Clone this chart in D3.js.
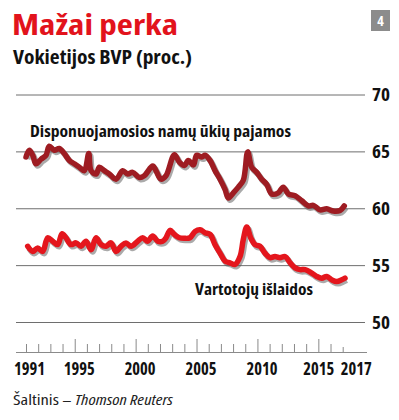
<!DOCTYPE html>
<html>
<head>
<meta charset="utf-8">
<script src="https://cdn.jsdelivr.net/npm/d3@7"></script>
<style>
  body { margin: 0; background: #fff; }
  svg text { font-family: "Open Sans", "Noto Sans", "DejaVu Sans Condensed", sans-serif; font-stretch: condensed; }
</style>
</head>
<body>
<div id="chart"></div>
<script>
// disposable household income, % of GDP
var incomeYears = [1991.00,1991.27,1991.55,1991.82,1992.23,1992.64,1992.91,1993.32,1993.73,1994.14,1994.56,1994.97,1995.38,1995.79,1996.15,1996.34,1996.75,1997.02,1997.43,1997.84,1998.39,1998.94,1999.35,1999.76,2000.30,2000.71,2001.40,2001.67,2002.08,2002.49,2003.18,2003.59,2004.00,2004.33,2004.74,2005.01,2005.43,2005.70,2006.11,2006.52,2006.93,2007.34,2007.61,2008.02,2008.43,2008.84,2009.20,2009.53,2009.94,2010.35,2010.76,2011.17,2011.71,2012.12,2012.54,2013.09,2013.64,2014.18,2014.59,2015.14,2015.69,2016.23,2016.78,2017.13];
var incomeValues = [64.55,65.15,64.7,63.95,64.35,64.7,65.5,65.15,65.3,64.85,64.25,63.95,63.65,63.35,64.85,63.35,63.05,63.65,63.35,63.05,62.6,63.35,63.05,63.2,62.75,62.9,63.75,63.35,62.6,62.9,64.75,64.1,63.8,64.25,63.85,64.7,64.55,64.7,64.25,63.35,62.6,61.7,60.95,61.4,61.9,62.5,65.0,63.65,63.2,62.6,62.15,61.3,61.4,61.9,61.3,61.15,60.7,60.25,60.3,59.9,60.0,59.8,59.85,60.25];

// consumer spending, % of GDP
var spendYears = [1991.14,1991.55,1991.96,1992.37,1992.78,1993.19,1993.60,1993.96,1994.28,1994.69,1995.11,1995.52,1995.93,1996.34,1996.75,1997.16,1997.57,1997.98,1998.39,1998.80,1999.21,1999.62,2000.17,2000.58,2000.99,2001.40,2001.81,2002.22,2002.49,2002.82,2003.18,2003.59,2004.00,2004.46,2004.88,2005.29,2005.70,2006.11,2006.52,2006.93,2007.34,2007.75,2008.16,2008.57,2008.84,2009.12,2009.45,2009.80,2010.21,2010.62,2011.03,2011.44,2011.85,2012.27,2012.68,2013.09,2013.50,2013.92,2014.46,2014.87,2015.28,2015.69,2016.10,2016.51,2016.92,2017.19];
var spendValues = [56.7,56.25,56.55,56.25,57.45,57.15,56.85,57.8,57.45,56.85,57.0,56.7,57.15,56.4,57.45,56.85,56.7,57.0,56.25,56.7,57.0,56.7,57.15,57.45,57.15,57.6,57.15,57.15,57.45,58.1,57.75,57.45,57.4,57.45,58.0,58.15,57.9,57.75,56.85,56.1,55.4,55.25,55.1,55.8,57.3,58.4,57.45,56.85,56.7,56.1,55.7,55.8,55.7,55.8,55.25,54.8,54.65,54.65,54.35,54.05,53.9,54.05,53.75,53.6,53.75,53.9];

var yTicks = [50, 55, 60, 65, 70];
var tickYears = d3.range(1991, 2018);
var labelYears = [1991, 1995, 2000, 2005, 2010, 2015, 2017];

var width = 399, height = 420;

var svg = d3.select('#chart')
.append('svg')
.attr('width', width)
.attr('height', height);

var x = d3.scaleLinear()
.domain([1991, 2017])
.range([26, 342.7]);

var y = d3.scaleLinear()
.domain([50, 70])
.range([322.5, 95]);

// squeeze text to the measured width of the original
function fit(sel, w) {
  sel.attr('textLength', w).attr('lengthAdjust', 'spacingAndGlyphs');
}

// title block
svg.append('text')
.attr('x', 12).attr('y', 35)
.style('font-size', '28.5px').style('font-weight', 'bold')
.style('fill', '#e2131c')
.text('Mažai perka')
.call(fit, 166);

svg.append('text')
.attr('x', 13).attr('y', 63.8)
.style('font-size', '19px').style('font-weight', 'bold')
.style('fill', '#111')
.text('Vokietijos BVP (proc.)')
.call(fit, 179);

svg.append('rect')
.attr('x', 371).attr('y', 10).attr('width', 19).attr('height', 21)
.style('fill', '#8c8c8c');
svg.append('text')
.attr('x', 380.5).attr('y', 26)
.attr('text-anchor', 'middle')
.style('font-size', '14px').style('font-weight', 'bold')
.style('fill', '#fff')
.text('4');

// gridlines + right labels
var grid = svg.append('g');
grid.selectAll('line')
.data(yTicks)
.enter()
.append('line')
.attr('x1', 16).attr('x2', 365)
.attr('y1', function(d) { return y(d); })
.attr('y2', function(d) { return y(d); })
.style('stroke', '#6e6e6e')
.style('stroke-width', 1);

grid.selectAll('text')
.data(yTicks)
.enter()
.append('text')
.attr('x', 372)
.attr('y', function(d) { return y(d) + 6; })
.style('font-size', '18px').style('font-weight', 'bold')
.style('fill', '#111')
.text(function(d) { return d; })
.call(fit, 18);

// bottom axis, ticks pointing up
var xAxis = svg.append('g')
.attr('transform', 'translate(0,352)')
.call(d3.axisTop(x).tickValues(tickYears).tickSize(8).tickFormat(''));
xAxis.select('.domain').remove();
xAxis.selectAll('.tick line')
.style('stroke', '#8a8a8a')
.attr('y2', function(d) { return d % 5 === 0 ? -13 : (d === 2017 ? -5 : -8); });
svg.append('line')
.attr('x1', 16).attr('x2', 367)
.attr('y1', 352.5).attr('y2', 352.5)
.style('stroke', '#8a8a8a');

svg.selectAll('.yearlabel')
.data(labelYears)
.enter()
.append('text')
.attr('class', 'yearlabel')
.attr('x', function(d) {
  if (d === 2017) return x(d) - 2;
  if (d === 2015) return x(d) - 15;
  if (d === 1991) return x(d) - 12;
  return x(d) - 11;
})
.attr('y', 375)
.style('font-size', '17px').style('font-weight', 'bold')
.style('fill', '#111')
.text(function(d) { return d; })
.call(fit, 31);

// lines
var line = d3.line()
.x(function(d) { return x(d[0]); })
.y(function(d) { return y(d[1]); })
.curve(d3.curveCatmullRom.alpha(0.5));

var income = d3.zip(incomeYears, incomeValues);
var spend = d3.zip(spendYears, spendValues);

[[income, '#9e1c22'], [spend, '#e4161d']].forEach(function(s) {
  svg.append('path')
  .datum(s[0])
  .attr('d', line)
  .attr('transform', 'translate(1.5,2)')
  .style('fill', 'none')
  .style('stroke', '#555')
  .style('stroke-opacity', 0.5)
  .style('stroke-width', 6)
  .style('stroke-linejoin', 'round');
  svg.append('path')
  .datum(s[0])
  .attr('d', line)
  .style('fill', 'none')
  .style('stroke', s[1])
  .style('stroke-width', 5.5)
  .style('stroke-linejoin', 'round')
  .style('stroke-linecap', 'round');
});

// series labels
svg.append('text')
.attr('x', 30).attr('y', 137)
.style('font-size', '16px').style('font-weight', 'bold')
.style('fill', '#111')
.text('Disponuojamosios namų ūkių pajamos')
.call(fit, 261);

svg.append('text')
.attr('x', 195).attr('y', 295)
.style('font-size', '16px').style('font-weight', 'bold')
.style('fill', '#111')
.text('Vartotojų išlaidos')
.call(fit, 118);

// source
var src = svg.append('text')
.attr('x', 13).attr('y', 405)
.style('font-size', '14px')
.style('fill', '#222');
src.append('tspan').text('Šaltinis – ').call(fit, 62);
src.append('tspan').style('font-style', 'italic').text('Thomson Reuters').call(fit, 98);
</script>
</body>
</html>
